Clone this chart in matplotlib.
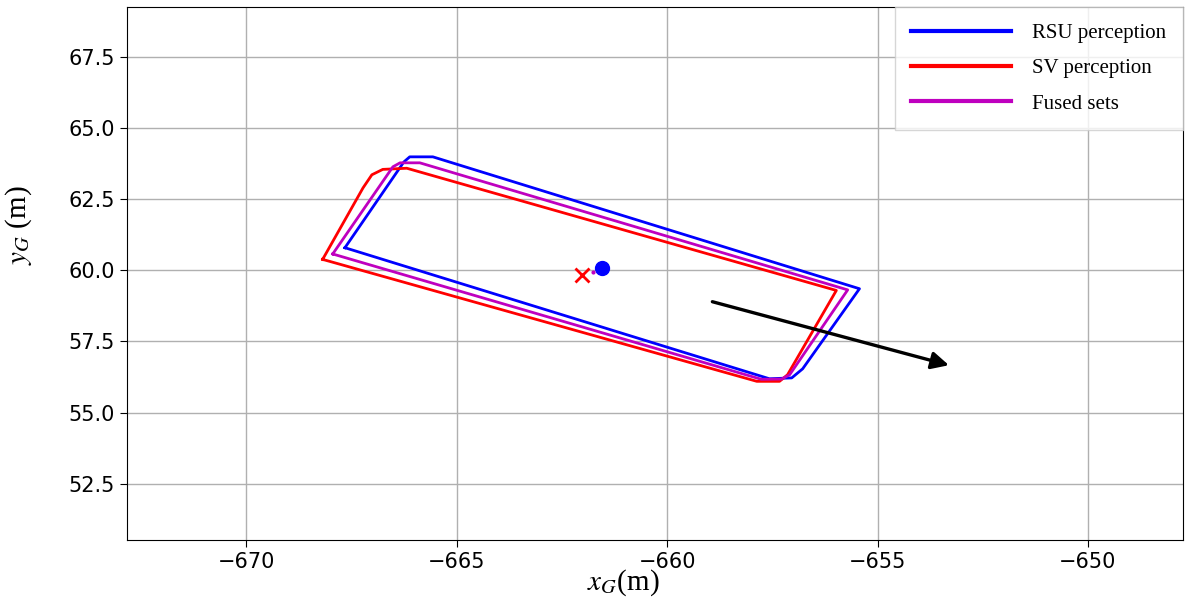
import matplotlib.pyplot as plt

# polygon outlines (global frame, metres)
rsu_x = [-667.66, -666.26, -666.12, -665.57, -655.43, -656.78, -657.04, -657.57, -667.66]
rsu_y = [60.79, 63.80, 63.98, 63.98, 59.35, 56.54, 56.22, 56.19, 60.79]

sv_x = [-668.19, -667.23, -667.02, -666.76, -666.19, -655.98, -657.14, -657.33, -657.87, -668.19]
sv_y = [60.38, 62.89, 63.35, 63.54, 63.58, 59.29, 56.33, 56.10, 56.10, 60.38]

fused_x = [-667.95, -666.52, -666.35, -665.88, -655.71, -657.09, -657.28, -657.76, -667.95]
fused_y = [60.57, 63.63, 63.77, 63.77, 59.31, 56.33, 56.18, 56.17, 60.57]

# centres
rsu_centre = (-661.56, 60.08)
sv_centre = (-662.03, 59.84)
fused_centre = (-661.77, 59.93)

# heading arrow
arrow_start = (-658.99, 58.92)
arrow_end = (-653.24, 56.64)

labels = ['RSU perception', 'SV perception', 'Fused sets']

plt.rcParams['mathtext.fontset'] = 'stix'

fig = plt.figure(figsize=(11.96, 5.98), dpi=100)
ax = fig.add_axes([127/1196, 1 - 540/598, (1183-127)/1196, (540-7)/598])

ax.plot(rsu_x, rsu_y, color='b', lw=2, label=labels[0])
ax.plot(sv_x, sv_y, color='r', lw=2, label=labels[1])
ax.plot(fused_x, fused_y, color='m', lw=2, label=labels[2])

ax.plot(*rsu_centre, 'bo', markersize=10)
ax.plot(*sv_centre, 'rx', markersize=10, mew=2)
ax.plot(*fused_centre, 'm.', markersize=4)

ax.annotate('', xy=arrow_end, xytext=arrow_start,
            arrowprops=dict(arrowstyle='-|>', lw=2.4, color='k', mutation_scale=26))

ax.set_xlim(-672.84, -647.74)
ax.set_ylim(50.53, 69.24)
ax.set_xticks([-670, -665, -660, -655, -650])
ax.set_yticks([52.5, 55.0, 57.5, 60.0, 62.5, 65.0, 67.5])
ax.grid(True, color='#b0b0b0', lw=1)
ax.tick_params(labelsize=15, length=5)

ax.set_xlabel(r'$x_G$(m)', fontsize=21, family='Liberation Serif')
ax.xaxis.set_label_coords(0.47, -0.052)
ax.set_ylabel(r'$y_G$ (m)', fontsize=21, family='Liberation Serif')
ax.yaxis.set_label_coords(-0.088, 0.59)

leg = ax.legend(loc='upper right', prop={'family': 'Liberation Serif', 'size': 15},
                handlelength=4.8, borderaxespad=0, borderpad=0.8, labelspacing=0.75,
                handletextpad=1.0, fancybox=False, edgecolor='#cccccc')
for line in leg.get_lines():
    line.set_linewidth(3)

plt.savefig('out.png', dpi=100)
